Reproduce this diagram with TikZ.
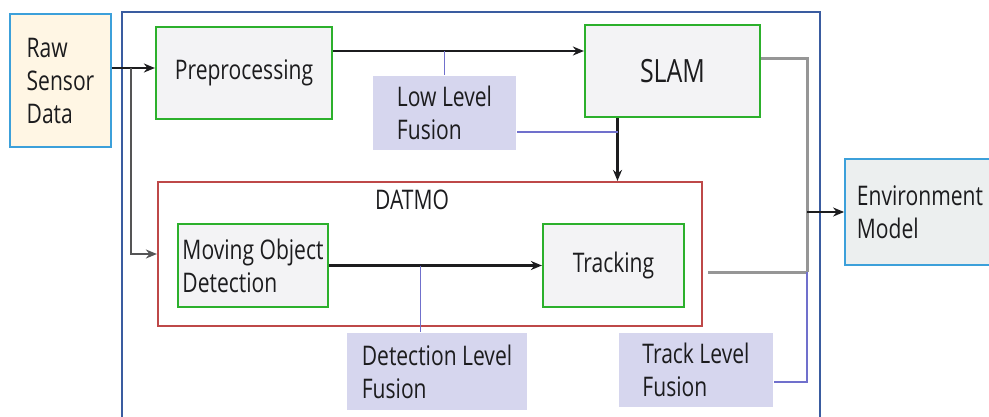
\documentclass[tikz,border=0pt]{standalone}
\usepackage{fontspec}
\setmainfont[FakeStretch=0.78]{Open Sans}
\usepackage{xcolor}
\usepackage{tikz}
\usetikzlibrary{positioning, arrows.meta}
\definecolor{ink}{RGB}{28,28,30}
\definecolor{boxgreen}{RGB}{44,176,44}
\definecolor{boxfill}{RGB}{243,243,245}
\definecolor{datmored}{RGB}{190,72,72}
\definecolor{fusfill}{RGB}{214,214,238}
\definecolor{fusblue}{RGB}{112,112,204}
\definecolor{edgeblue}{RGB}{60,160,218}
\definecolor{rawfill}{RGB}{255,246,228}
\definecolor{envfill}{RGB}{236,239,239}
\definecolor{frameblue}{RGB}{58,92,160}
\definecolor{busgray}{RGB}{150,150,150}
\tikzset{
  box/.style     ={rectangle, draw=boxgreen, line width=2.2pt, fill=boxfill,
                   inner sep=2pt, align=left, text=ink, font={\fontsize{27}{33}\selectfont}},
  iobox/.style   ={box, draw=edgeblue, line width=1.8pt},
  fusbox/.style  ={box, draw=none, fill=fusfill},
  groupbox/.style={rectangle, draw=datmored, line width=2.2pt, fill=white},
  arr/.style     ={-{Stealth[length=11pt, width=9pt]}, line width=2.4pt, color=ink},
  fusline/.style ={line width=1.5pt, color=fusblue},
  busline/.style ={line width=3pt, color=busgray},
}
\begin{document}
\begin{tikzpicture}[x=1pt, y=-1pt]
\useasboundingbox (0,0) rectangle (989,416);
% outer frame, runs off the bottom
\draw[line width=1.8pt, frameblue] (122,12) rectangle (820,440);
\node[iobox, fill=rawfill, minimum width=101pt, minimum height=133pt] (raw) at (60.5,80.5) {Raw\\Sensor\\Data};
\node[iobox, fill=envfill, minimum width=150pt, minimum height=106pt] (env) at (920,212) {Environment\\Model};
\node[box, minimum width=176pt, minimum height=92pt] (preproc) at (244,73) {Preprocessing};
\node[box, minimum width=175pt, minimum height=92pt, font={\fontsize{32}{38}\selectfont}] (slam) at (672.5,71) {SLAM};
\node[fusbox, minimum width=143pt, minimum height=74pt] (lowfus) at (444.5,113) {Low Level\\Fusion};
\node[groupbox, minimum width=544pt, minimum height=144pt] (datmo) at (430,254) {};
\node[text=ink, font={\fontsize{27}{33}\selectfont}] (datmolabel) at (412,200) {DATMO};
\node[box, minimum width=150pt, minimum height=83pt] (mod) at (253,265.5) {Moving Object\\Detection};
\node[box, minimum width=141pt, minimum height=83pt] (track) at (613.5,265.5) {Tracking};
\node[fusbox, minimum width=180pt, minimum height=77pt] (detfus) at (437,371.5) {Detection Level\\Fusion};
\node[fusbox, minimum width=154pt, minimum height=74pt] (trackfus) at (696,370) {Track Level\\Fusion};
% input side
\coordinate (split) at (131,68);
\draw[arr] ([yshift=5pt]raw.east |- preproc.west) -- ([yshift=5pt]preproc.west);
\draw[arr, color=ink!75] (split) |- (datmo.west);
% main chain
\draw[arr] ([yshift=22pt]preproc.east) -- coordinate[pos=0.435] (pptap) ([yshift=22pt]preproc.east -| slam.west);
\draw[fusline] (lowfus.north) -- (lowfus.north |- pptap);
\draw[arr] ([xshift=-55pt]slam.south) coordinate (sd) -- (sd |- datmo.north);
\draw[fusline] ([yshift=-19pt]lowfus.east) coordinate (lf) -- (sd |- lf);
\draw[arr] (mod.east) -- coordinate[pos=0.43] (mtap) (track.west);
\draw[fusline] (mtap) -- (mtap |- detfus.north);
% output bus
\coordinate (busbot) at (807,272);
\draw[busline] ([yshift=13pt]slam.east) -| (busbot);
\draw[busline] ([xshift=5pt]busbot -| datmo.east) -- (busbot);
\draw[fusline] ([yshift=-12pt]trackfus.east) -| (busbot);
\draw[arr] (env.west -| busbot) -- (env.west);
\end{tikzpicture}
\end{document}
